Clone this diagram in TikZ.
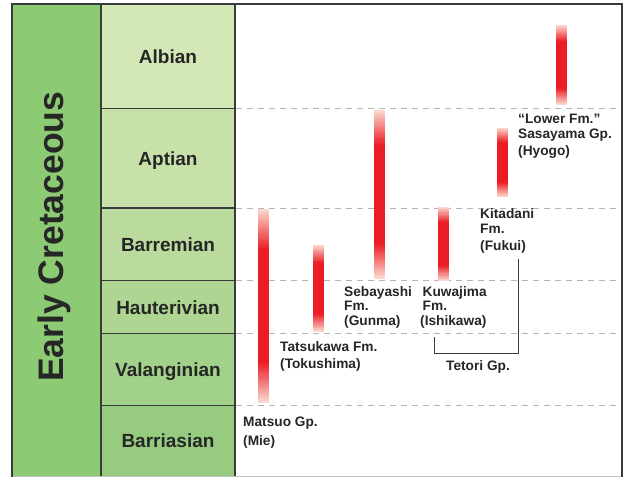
\documentclass[tikz,border=0pt]{standalone}
\usepackage{fontspec}
\setmainfont{Liberation Sans}
\definecolor{framecol}{HTML}{3A3A3A}
\definecolor{eracol}{HTML}{8CCA74}
\definecolor{albcol}{HTML}{D4E7B6}
\definecolor{aptcol}{HTML}{C7E1AA}
\definecolor{barcol}{HTML}{BADB9D}
\definecolor{haucol}{HTML}{AED692}
\definecolor{valcol}{HTML}{A2D189}
\definecolor{bercol}{HTML}{97CC80}
\definecolor{barred}{HTML}{EC1C24}
\definecolor{barend}{HTML}{FBDDD3}
\definecolor{dashcol}{HTML}{B4B4B4}
\newcommand{\redbar}[3]{%
  \pgfmathsetmacro{\fadelen}{0.21*(#3-#2)}%
  \fill[barred] (#1-5.5,#2+\fadelen) rectangle (#1+5.5,#3-\fadelen);
  \foreach \k in {0,...,19}{%
    \pgfmathtruncatemacro{\pp}{\k*5+3}%
    \pgfmathsetmacro{\ya}{#2+\k*\fadelen/20}%
    \pgfmathsetmacro{\yb}{#2+(\k+1)*\fadelen/20+0.4}%
    \fill[barred!\pp!barend] (#1-5.5,\ya) rectangle (#1+5.5,\yb);
    \pgfmathsetmacro{\yc}{#3-\k*\fadelen/20}%
    \pgfmathsetmacro{\yd}{#3-(\k+1)*\fadelen/20-0.4}%
    \fill[barred!\pp!barend] (#1-5.5,\yd) rectangle (#1+5.5,\yc);
  }}
\begin{document}
\begin{tikzpicture}[x=1pt,y=-1pt,
  frameline/.style={draw=framecol,line width=1.5pt},
  sepline/.style={draw=framecol,line width=1.2pt},
  dashline/.style={draw=dashcol,line width=0.8pt,dash pattern=on 6pt off 5pt},
  stagelab/.style={anchor=base,inner sep=0,font=\bfseries\fontsize{19}{22}\selectfont,text=black!85},
  fmlab/.style={anchor=base west,inner sep=0,font=\bfseries\fontsize{13.7}{16}\selectfont,text=black!85},
  bracket/.style={draw=framecol,line width=1.2pt}]
\useasboundingbox (0,0) rectangle (627,477);
\begin{scope}
\clip (0,0) rectangle (627,477);
% columns
\fill[eracol] (12,4) rectangle (101,476);
\fill[albcol] (101,4) rectangle (235,108.7);
\fill[aptcol] (101,108.7) rectangle (235,208);
\fill[barcol] (101,208) rectangle (235,280.7);
\fill[haucol] (101,280.7) rectangle (235,333.3);
\fill[valcol] (101,333.3) rectangle (235,405.3);
\fill[bercol] (101,405.3) rectangle (235,476);
% dashed stage lines
\foreach \yy in {108.7,208,280.7,333.3,405.3}
  \draw[dashline] (236,\yy) -- (621,\yy);
% stage separators
\foreach \yy in {108.7,208,280.7,333.3,405.3}
  \draw[sepline] (101,\yy) -- (235,\yy);
\draw[sepline] (101,4) -- (101,476);
\draw[sepline] (235,4) -- (235,476);
\draw[draw=black!25,line width=0.6pt] (12,476) -- (622,476);
\draw[frameline] (12,477) -- (12,4) -- (622,4) -- (622,477);
\end{scope}
% era label
\node[rotate=90,anchor=base west,inner sep=0,font=\bfseries\fontsize{35.5}{40}\selectfont,text=black!85] (era) at (63,382) {Early Cretaceous};
% stage labels
\node[stagelab] (alb) at (168,63.5) {Albian};
\node[stagelab] (apt) at (168,165) {Aptian};
\node[stagelab] (bar) at (168,251) {Barremian};
\node[stagelab] (hau) at (168,314) {Hauterivian};
\node[stagelab] (val) at (168,376) {Valanginian};
\node[stagelab] (ber) at (168,447.5) {Barriasian};
% red bars
\redbar{263.5}{209}{403}
\redbar{318.5}{245}{332}
\redbar{379}{110}{279}
\redbar{443.5}{207}{281}
\redbar{502.5}{128}{197}
\redbar{561.5}{25}{105}
% formation labels
\node[fmlab] (mat1) at (243,426) {Matsuo Gp.};
\node[fmlab] (mat2) at (243,445) {(Mie)};
\node[fmlab] (tat1) at (280,351) {Tatsukawa Fm.};
\node[fmlab] (tat2) at (280,368) {(Tokushima)};
\node[fmlab] (seb1) at (344,296) {Sebayashi};
\node[fmlab] (seb2) at (344,310) {Fm.};
\node[fmlab] (seb3) at (344,325) {(Gunma)};
\node[fmlab] (kuw1) at (422.5,296) {Kuwajima};
\node[fmlab] (kuw2) at (422.5,310) {Fm.};
\node[fmlab] (kuw3) at (420,325.5) {(Ishikawa)};
\node[fmlab] (kit1) at (480,218) {Kitadani};
\node[fmlab] (kit2) at (480,233) {Fm.};
\node[fmlab] (kit3) at (480,250) {(Fukui)};
\node[fmlab] (low1) at (518,123) {“Lower Fm.”};
\node[fmlab] (low2) at (518,138) {Sasayama Gp.};
\node[fmlab] (low3) at (518,155) {(Hyogo)};
% Tetori bracket
\coordinate (brA) at (434.3,337);
\coordinate (brB) at (434.3,353.3);
\coordinate (brC) at (518.3,353.3);
\coordinate (brD) at (518.3,259);
\draw[bracket] (brA) -- (brB) -- (brC) -- (brD);
\node[fmlab,anchor=base] (tet) at (478,370) {Tetori Gp.};
\end{tikzpicture}
\end{document}
